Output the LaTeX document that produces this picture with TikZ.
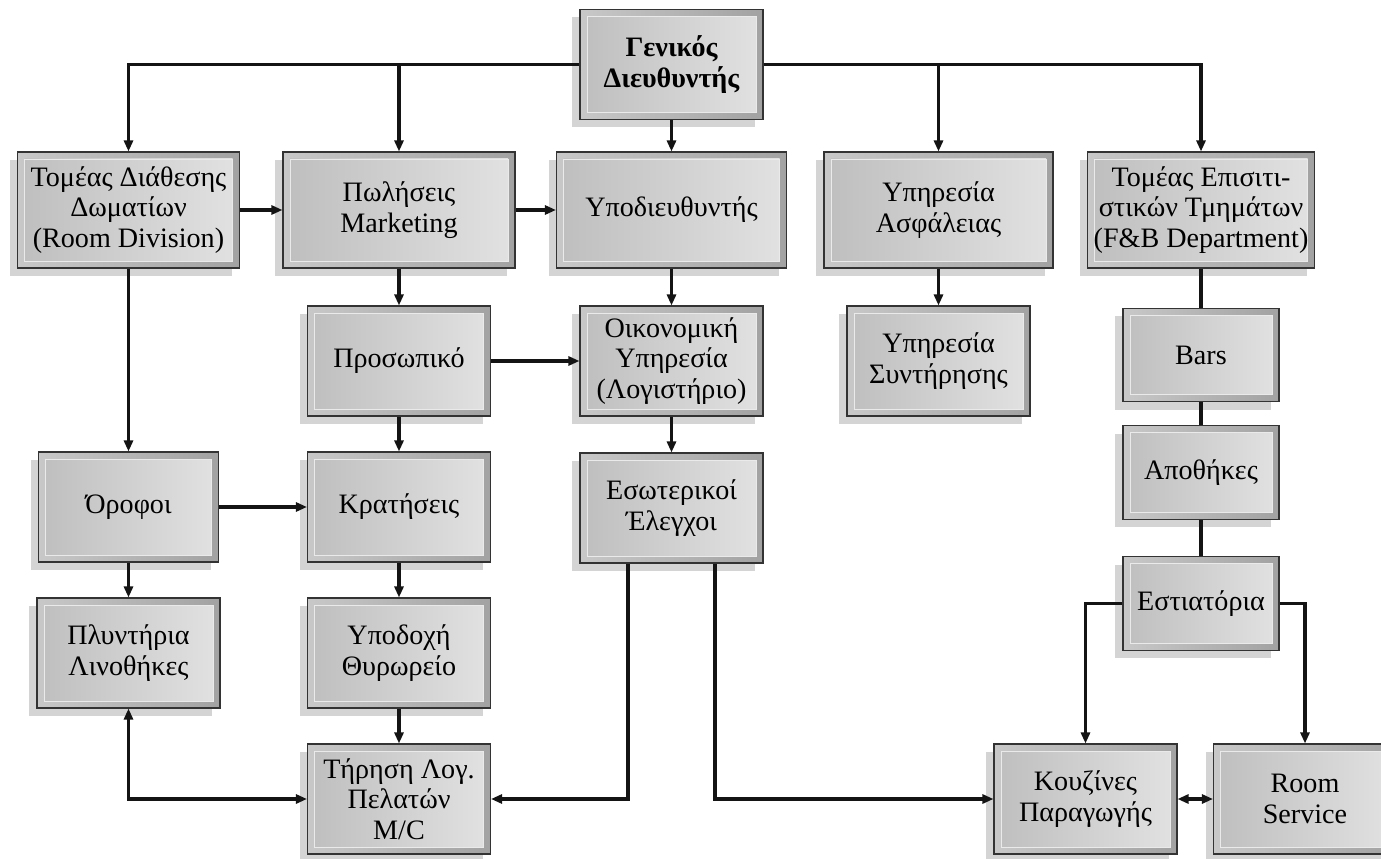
\documentclass[tikz,border=0pt]{standalone}
\usepackage{fontspec}
\setmainfont{Liberation Serif}
\usetikzlibrary{arrows.meta, shadows}
\definecolor{framelight}{RGB}{200,200,200}
\definecolor{framedark}{RGB}{162,162,162}
\definecolor{panellight}{RGB}{226,226,226}
\definecolor{paneldark}{RGB}{190,190,190}
\definecolor{panelrim}{RGB}{234,234,234}
\definecolor{shadowgray}{RGB}{212,212,212}
\definecolor{flowcolor}{RGB}{20,20,20}

\begin{document}
\begin{tikzpicture}[
    unit/.style={draw=black!80, line width=0.6pt, left color=framelight, right color=framedark,
        minimum width=3.66cm, minimum height=2.2cm, align=center, inner sep=2pt,
        font=\fontsize{16}{17.5}\selectfont,
        drop shadow={shadow xshift=-0.16cm, shadow yshift=-0.16cm, fill=shadowgray, opacity=1},
        path picture={
            \shade[left color=paneldark, right color=panellight, draw=panelrim, line width=0.5pt]
            ([shift={(0.14,0.14)}]path picture bounding box.south west) rectangle
            ([shift={(-0.14,-0.14)}]path picture bounding box.north east);
        }},
    wide/.style={unit, minimum width=4.55cm, minimum height=2.32cm},
    small/.style={unit, minimum width=3.12cm, minimum height=1.87cm},
    arrow/.style={-{Triangle[length=0.22cm, width=0.18cm]}, line width=2pt, flowcolor},
    biarrow/.style={{Triangle[length=0.22cm, width=0.18cm]}-{Triangle[length=0.22cm, width=0.18cm]}, line width=2pt, flowcolor},
    link/.style={line width=2pt, flowcolor}
]
    \useasboundingbox (0,0) rectangle (27.62,-17.18);

    % General manager
    \node[unit, font=\fontsize{16}{17.5}\selectfont\bfseries] (gm) at (13.43,-1.29) {Γενικός\\Διευθυντής};

    % First level
    \node[wide, minimum width=4.44cm] (rooms) at (2.57,-4.2) {Τομέας Διάθεσης\\Δωματίων\\(Room Division)};
    \node[wide, minimum width=4.64cm] (sales) at (7.98,-4.2) {Πωλήσεις\\Marketing};
    \node[wide, minimum width=4.6cm] (deputy) at (13.43,-4.2) {Υποδιευθυντής};
    \node[wide, minimum width=4.58cm] (security) at (18.77,-4.2) {Υπηρεσία\\Ασφάλειας};
    \node[wide, minimum width=4.54cm] (fnb) at (24.02,-4.2) {Τομέας Επισιτι-\\στικών Τμημάτων\\(F\&B Department)};

    % Second level
    \node[unit] (staff) at (7.98,-7.22) {Προσωπικό};
    \node[unit] (finance) at (13.43,-7.22) {Οικονομική\\Υπηρεσία\\(Λογιστήριο)};
    \node[unit] (upkeep) at (18.77,-7.22) {Υπηρεσία\\Συντήρησης};
    \node[small] (bars) at (24.02,-7.1) {Bars};

    % Third level
    \node[unit, minimum width=3.6cm] (floors) at (2.57,-10.14) {Όροφοι};
    \node[unit] (booking) at (7.98,-10.14) {Κρατήσεις};
    \node[unit] (audit) at (13.43,-10.16) {Εσωτερικοί\\Έλεγχοι};
    \node[small] (stores) at (24.02,-9.45) {Αποθήκες};

    % Fourth level
    \node[unit] (laundry) at (2.57,-13.06) {Πλυντήρια\\Λινοθήκες};
    \node[unit] (frontdesk) at (7.98,-13.06) {Υποδοχή\\Θυρωρείο};
    \node[small] (dining) at (24.02,-12.07) {Εστιατόρια};

    % Bottom level
    \node[unit] (ledger) at (7.98,-15.98) {Τήρηση Λογ.\\Πελατών\\M/C};
    \node[unit] (kitchen) at (21.71,-15.98) {Κουζίνες\\Παραγωγής};
    \node[unit] (roomsvc) at (26.1,-15.98) {Room\\Service};

    % Arrows
    \draw[arrow] (gm.west) -| (rooms.north);
    \draw[arrow] (gm.west) -| (sales.north);
    \draw[arrow] (gm) -- (deputy);
    \draw[arrow] (gm.east) -| (security.north);
    \draw[arrow] (gm.east) -| (fnb.north);
    \draw[arrow] (rooms) -- (sales);
    \draw[arrow] (sales) -- (deputy);
    \draw[arrow] (rooms) -- (floors);
    \draw[arrow] (floors) -- (laundry);
    \draw[arrow] (floors) -- (booking);
    \draw[arrow] (sales) -- (staff);
    \draw[arrow] (staff) -- (booking);
    \draw[arrow] (booking) -- (frontdesk);
    \draw[arrow] (frontdesk) -- (ledger);
    \draw[arrow] (staff) -- (finance);
    \draw[arrow] (deputy) -- (finance);
    \draw[arrow] (finance) -- (audit);
    \draw[arrow] ([xshift=-0.87cm]audit.south) |- (ledger.east);
    \draw[arrow] ([xshift=0.87cm]audit.south) |- (kitchen.west);
    \draw[biarrow] (laundry.south) |- (ledger.west);
    \draw[biarrow] (kitchen) -- (roomsvc);
    \draw[arrow] (security) -- (upkeep);
    \draw[link] (fnb) -- (bars);
    \draw[link] (bars) -- (stores);
    \draw[link] (stores) -- (dining);
    \draw[arrow] (dining.west) -| (kitchen.north);
    \draw[arrow] (dining.east) -| (roomsvc.north);
\end{tikzpicture}
\end{document}
